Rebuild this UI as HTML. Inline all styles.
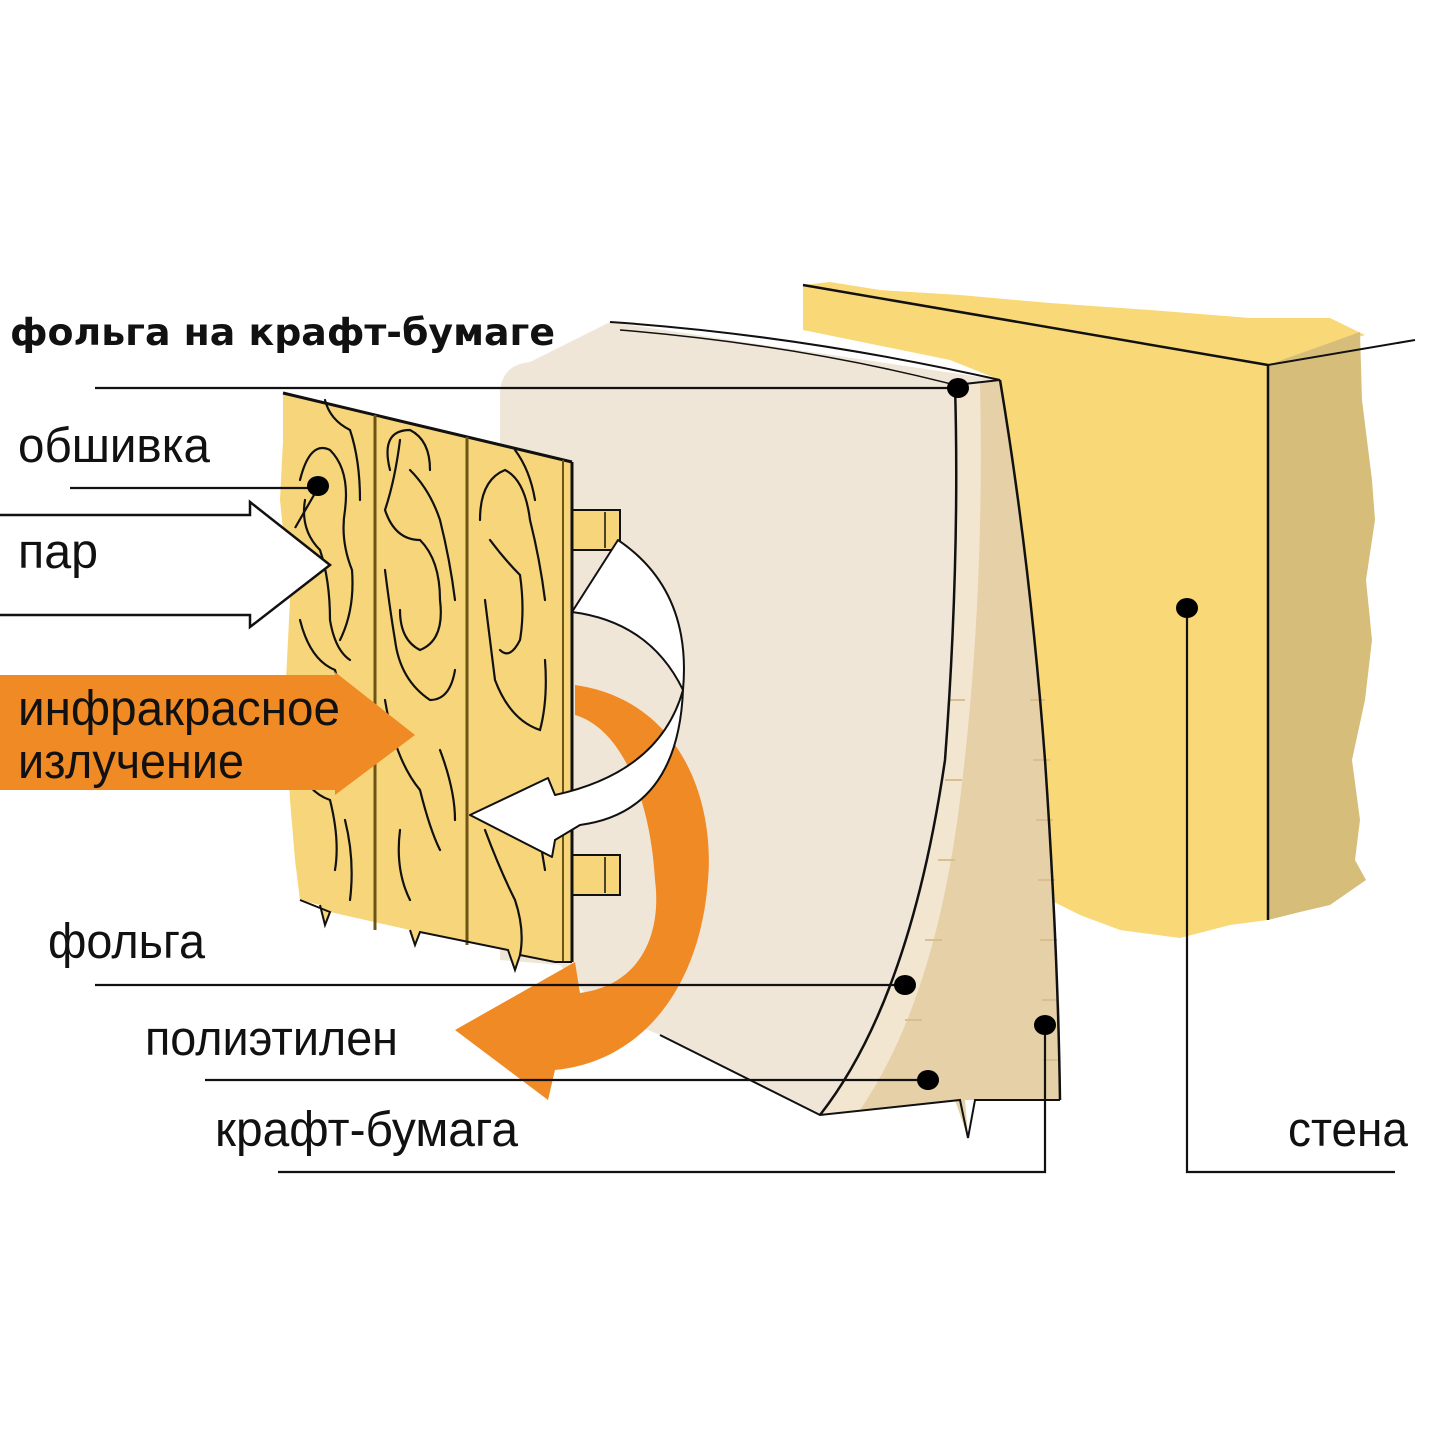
<!DOCTYPE html>
<html><head><meta charset="utf-8"><style>html,body{margin:0;padding:0;background:#fff}svg{display:block}</style></head>
<body>
<svg width="1440" height="1440" viewBox="0 0 1440 1440" xmlns="http://www.w3.org/2000/svg" font-family="Liberation Sans, sans-serif">
<rect width="1440" height="1440" fill="#fff"/>
<!-- wall top+front -->
<path d="M803,285 L830,282 L880,290 L960,295 L1050,303 L1150,310 L1250,318 L1330,318 L1365,335 L1268,365 L1268,920 L1230,925 L1180,938 L1120,930 L1080,915 L1050,900 L1000,380 L950,360 L803,330 Z" fill="#F9D878"/>
<!-- wall side -->
<path d="M1268,365 L1360,332 L1362,400 L1372,480 L1375,520 L1366,580 L1372,640 L1365,700 L1352,760 L1360,820 L1355,860 L1366,880 L1330,905 L1300,912 L1268,920 Z" fill="#D6BE7A"/>
<line x1="803" y1="285" x2="1268" y2="365" stroke="#111" stroke-width="2.5"/>
<line x1="1268" y1="365" x2="1415" y2="340" stroke="#111" stroke-width="2"/>
<line x1="1268" y1="365" x2="1268" y2="920" stroke="#111" stroke-width="2.5"/>
<!-- insulation panel -->
<path d="M500,395 Q500,365 530,362 L610,322 L1000,380 L1035,700 L1060,1010 L1060,1100 L965,1100 L968,1135 L960,1100 L820,1115 L660,1035 L600,1010 L560,965 L500,960 Z" fill="#F0E6D8"/>
<!-- kraft layer -->
<path d="M955,385 L1000,380 Q1030,560 1045,760 Q1058,950 1060,1100 L965,1100 L968,1138 L955,1100 L820,1115 Q910,1000 945,760 Q960,560 955,385 Z" fill="#E6D0A8"/>
<path d="M955,385 L980,383 Q985,600 960,800 Q935,1000 860,1110 L820,1115 Q910,1000 945,760 Q960,560 955,385 Z" fill="#F3E6D0"/>
<g stroke="#D8BE90" stroke-width="2">
<line x1="1030" y1="700" x2="1045" y2="700"/><line x1="1033" y1="760" x2="1050" y2="760"/><line x1="1036" y1="820" x2="1053" y2="820"/><line x1="1038" y1="880" x2="1055" y2="880"/><line x1="1040" y1="940" x2="1057" y2="940"/><line x1="1042" y1="1000" x2="1058" y2="1000"/><line x1="1043" y1="1060" x2="1059" y2="1060"/>
<line x1="950" y1="700" x2="965" y2="700"/><line x1="945" y1="780" x2="962" y2="780"/><line x1="938" y1="860" x2="955" y2="860"/><line x1="925" y1="940" x2="942" y2="940"/><line x1="905" y1="1020" x2="922" y2="1020"/><line x1="880" y1="1080" x2="896" y2="1080"/>
</g>
<path d="M610,322 Q800,335 1000,380" fill="none" stroke="#111" stroke-width="2"/>
<path d="M620,330 Q800,345 955,385" fill="none" stroke="#111" stroke-width="1.5"/>
<line x1="955" y1="385" x2="1000" y2="380" stroke="#111" stroke-width="2"/>
<path d="M955,385 Q960,560 945,760 Q910,1000 820,1115" fill="none" stroke="#111" stroke-width="2.5"/>
<path d="M1000,380 Q1030,560 1045,760 Q1058,950 1060,1100" fill="none" stroke="#111" stroke-width="2.5"/>
<path d="M660,1035 L820,1115 L960,1100 L968,1138 L975,1100 L1060,1100" fill="none" stroke="#111" stroke-width="2"/>
<!-- orange curved arrow -->
<path d="M575,685 C680,700 715,800 708,880 C700,990 640,1062 555,1070 L548,1100 L455,1030 L575,962 L580,993 C640,985 662,935 655,880 C650,795 620,728 575,715 Z" fill="#F08A24"/>
<!-- battens -->
<rect x="572" y="510" width="48" height="40" fill="#F7D57A" stroke="#111" stroke-width="2"/>
<line x1="605" y1="512" x2="605" y2="548" stroke="#111" stroke-width="1.5"/>
<rect x="572" y="855" width="48" height="40" fill="#F7D57A" stroke="#111" stroke-width="2"/>
<line x1="605" y1="857" x2="605" y2="893" stroke="#111" stroke-width="1.5"/>
<!-- boards -->
<path d="M283,393 L572,462 L572,962 L555,962 L520,955 L515,970 L508,950 L420,932 L415,945 L410,930 L330,912 L325,925 L320,905 L300,900 L295,860 L290,800 L285,700 L290,600 L280,500 L283,440 Z" fill="#F7D57A"/>
<line x1="283" y1="393" x2="572" y2="462" stroke="#111" stroke-width="3"/>
<line x1="572" y1="462" x2="572" y2="962" stroke="#111" stroke-width="3"/>
<line x1="563" y1="460" x2="563" y2="962" stroke="#6b5414" stroke-width="2"/>
<line x1="375" y1="415" x2="375" y2="930" stroke="#6b5414" stroke-width="3"/>
<line x1="467" y1="437" x2="467" y2="945" stroke="#6b5414" stroke-width="3"/>
<path d="M300,900 L330,912 L325,925 L320,905 M410,930 L415,945 L420,932 L508,950 L515,970 L520,955 L555,962 L572,962" fill="none" stroke="#111" stroke-width="2"/>
<g fill="none" stroke="#111" stroke-width="2.2" stroke-linecap="round">
<path d="M300,480 Q310,440 330,450 Q350,470 345,510 Q340,540 352,570 Q355,610 340,640"/>
<path d="M325,400 Q330,420 350,430 Q360,460 360,500"/>
<path d="M305,500 Q300,530 320,550 Q330,580 330,620 Q335,650 350,660"/>
<path d="M300,620 Q310,660 335,670 Q345,700 335,730"/>
<path d="M290,740 Q300,790 330,800 Q340,840 335,870"/>
<path d="M345,820 Q355,860 350,900"/>
<path d="M400,440 Q395,480 385,510 Q395,540 420,540 Q440,560 440,600 Q445,640 420,650 Q400,640 400,610"/>
<path d="M390,470 Q380,430 410,430 Q430,440 430,470"/>
<path d="M385,570 Q390,610 395,640 Q400,680 430,700 Q450,700 455,670"/>
<path d="M410,470 Q430,490 440,520 Q450,560 455,600"/>
<path d="M385,700 Q395,760 420,790 Q430,830 440,850"/>
<path d="M400,830 Q395,870 410,900"/>
<path d="M440,750 Q455,790 455,820"/>
<path d="M480,520 Q480,480 505,470 Q525,480 530,520 Q540,560 545,600"/>
<path d="M490,540 Q505,560 520,575 Q525,610 520,640 Q510,660 500,650"/>
<path d="M485,600 Q490,640 495,680 Q510,720 540,730 Q548,700 545,660"/>
<path d="M485,830 Q500,870 515,900 Q525,930 520,955"/>
<path d="M535,810 Q540,840 545,870"/>
<path d="M515,450 Q530,470 535,500"/>
</g>
<!-- white curved arrow (over boards) -->
<path d="M618,540 Q692,590 683,690 Q650,622 572,612 Z" fill="#fff" stroke="#111" stroke-width="2" stroke-linejoin="round"/>
<path d="M683,690 Q678,812 580,825 L555,840 L552,857 L470,815 L548,778 L555,795 Q660,772 683,690 Z" fill="#fff" stroke="#111" stroke-width="2" stroke-linejoin="round"/>
<!-- white steam arrows -->
<path d="M0,515 L250,515 L250,502 L330,565 L250,627 L250,615 L0,615 L0,565 Z" fill="#fff"/>
<path d="M0,515 L250,515 L250,502 L330,565 L250,627 L250,615 L0,615" fill="none" stroke="#111" stroke-width="2.5"/>
<!-- IR arrow -->
<path d="M0,675 L335,675 L335,672 L415,735 L335,795 L335,790 L0,790 Z" fill="#F08A24"/>
<!-- leader lines & dots -->
<g stroke="#111" stroke-width="2.2" fill="none">
<line x1="95" y1="388" x2="958" y2="388"/>
<line x1="70" y1="488" x2="318" y2="488"/>
<line x1="318" y1="488" x2="295" y2="528"/>
<line x1="95" y1="985" x2="905" y2="985"/>
<line x1="205" y1="1080" x2="928" y2="1080"/>
<polyline points="278,1172 1045,1172 1045,1025"/>
<polyline points="1395,1172 1187,1172 1187,608"/>
</g>
<g fill="#000">
<ellipse cx="958" cy="388" rx="11" ry="10"/>
<ellipse cx="318" cy="486" rx="11" ry="10"/>
<ellipse cx="905" cy="985" rx="11" ry="10"/>
<ellipse cx="928" cy="1080" rx="11" ry="10"/>
<ellipse cx="1045" cy="1025" rx="11" ry="10"/>
<ellipse cx="1187" cy="608" rx="11" ry="10"/>
</g>
<!-- labels -->
<g fill="#111">
<text x="10" y="345" font-size="37" font-weight="bold" font-family="DejaVu Sans, sans-serif" textLength="545" lengthAdjust="spacingAndGlyphs">фольга на крафт-бумаге</text>
<text x="18" y="462" font-size="49" textLength="192" lengthAdjust="spacingAndGlyphs">обшивка</text>
<text x="18" y="568" font-size="49" textLength="80" lengthAdjust="spacingAndGlyphs">пар</text>
<text x="18" y="725" font-size="49" textLength="322" lengthAdjust="spacingAndGlyphs">инфракрасное</text>
<text x="18" y="778" font-size="49" textLength="226" lengthAdjust="spacingAndGlyphs">излучение</text>
<text x="48" y="958" font-size="49" textLength="157" lengthAdjust="spacingAndGlyphs">фольга</text>
<text x="145" y="1055" font-size="49" textLength="253" lengthAdjust="spacingAndGlyphs">полиэтилен</text>
<text x="215" y="1146" font-size="49" textLength="303" lengthAdjust="spacingAndGlyphs">крафт-бумага</text>
<text x="1288" y="1146" font-size="49" textLength="120" lengthAdjust="spacingAndGlyphs">стена</text>
</g>
</svg>
</body></html>
